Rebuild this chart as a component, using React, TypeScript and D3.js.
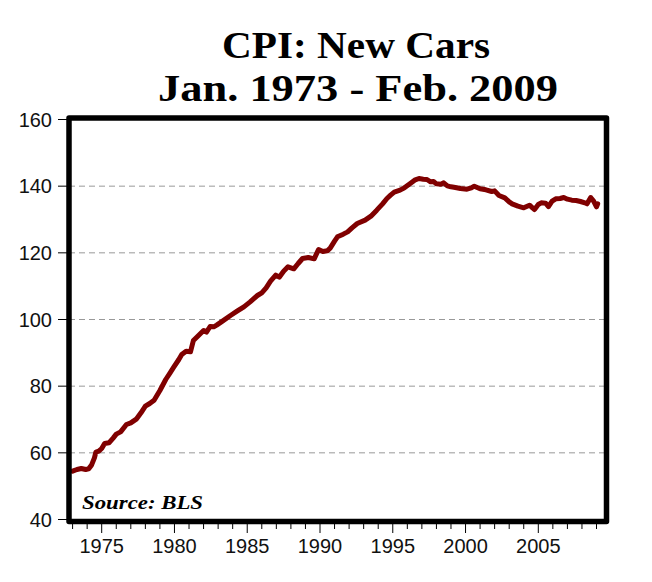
import React, { useEffect, useRef } from 'react';
import * as d3 from 'd3';

// decimal year of each reading (Jan 1973 = 1973.0)
const dates = [
  1973.0, 1973.3, 1973.6, 1973.9, 1974.1, 1974.3, 1974.5, 1974.6, 1974.8, 1975.0,
  1975.2, 1975.5, 1975.8, 1976.0, 1976.3, 1976.7, 1977.0, 1977.4, 1977.7, 1978.0,
  1978.3, 1978.6, 1979.0, 1979.4, 1979.7, 1979.95, 1980.3, 1980.5, 1980.8, 1981.1,
  1981.3, 1981.6, 1982.0, 1982.2, 1982.45, 1982.7, 1982.9, 1983.3, 1983.85, 1984.3,
  1984.77, 1985.2, 1985.7, 1986.0, 1986.3, 1986.6, 1986.96, 1987.2, 1987.5, 1987.8,
  1988.2, 1988.5, 1988.8, 1989.2, 1989.6, 1989.9, 1990.2, 1990.5, 1990.7, 1991.0,
  1991.2, 1991.6, 1991.9, 1992.2, 1992.56, 1993.1, 1993.5, 1993.9, 1994.3, 1994.6,
  1994.85, 1995.1, 1995.5, 1995.8, 1996.2, 1996.5, 1996.8, 1997.1, 1997.35, 1997.6,
  1997.8, 1998.0, 1998.3, 1998.5, 1998.75, 1999.0, 1999.3, 1999.65, 2000.1, 2000.4,
  2000.6, 2001.0, 2001.4, 2001.8, 2002.0, 2002.3, 2002.7, 2003.0, 2003.2, 2003.6,
  2004.0, 2004.2, 2004.4, 2004.6, 2004.74, 2005.0, 2005.2, 2005.5, 2005.7, 2005.95,
  2006.2, 2006.5, 2006.75, 2007.0, 2007.3, 2007.6, 2007.9, 2008.2, 2008.35, 2008.6,
  2008.8, 2009.0, 2009.08,
];

const cpi = [
  54.5, 55.0, 55.3, 55.0, 55.2, 56.3, 58.5, 60.2, 60.5, 61.3,
  62.8, 63.0, 64.5, 65.6, 66.3, 68.5, 69.0, 70.2, 72.0, 74.0,
  74.8, 75.8, 78.7, 82.0, 84.0, 85.7, 88.0, 89.5, 90.5, 90.3,
  93.7, 95.0, 96.7, 96.2, 97.9, 97.8, 98.3, 99.5, 101.2, 102.5,
  103.8, 105.3, 107.2, 108.0, 109.5, 111.5, 113.3, 112.7, 114.5, 115.8,
  115.2, 116.8, 118.3, 118.6, 118.2, 121.0, 120.4, 120.6, 121.4, 123.5,
  124.8, 125.6, 126.3, 127.5, 128.8, 129.8, 131.0, 132.8, 134.7, 136.3,
  137.3, 138.2, 138.8, 139.5, 140.8, 141.8, 142.3, 142.1, 142.0, 141.3,
  141.4, 140.7, 140.6, 141.0, 140.1, 139.8, 139.6, 139.3, 139.1, 139.5,
  140.0, 139.2, 138.9, 138.4, 138.6, 137.2, 136.5, 135.3, 134.7, 134.0,
  133.5, 133.9, 134.3, 133.5, 133.0, 134.5, 135.0, 134.9, 133.9, 135.5,
  136.2, 136.3, 136.6, 136.1, 135.8, 135.7, 135.4, 135.0, 134.7, 136.6,
  135.5, 133.8, 134.7,
];

const yTicks = [40, 60, 80, 100, 120, 140, 160];
const gridValues = [60, 80, 100, 120, 140];
const yearTicks = d3.range(1973, 2010);
const yearLabels = [1975, 1980, 1985, 1990, 1995, 2000, 2005];

export default function App() {
  const svgRef = useRef<SVGSVGElement>(null);

  useEffect(() => {
    if (!svgRef.current) return;
    const svg = d3.select(svgRef.current);
    svg.selectAll('*').remove();

    const frame = { left: 69, top: 118, right: 606.5, bottom: 521.5 };

    const x = d3.scaleLinear().domain([1975, 2005]).range([101.7, 538.3]);
    const y = d3.scaleLinear().domain([40, 160]).range([519.5, 119.5]);

    // title
    svg
      .append('text')
      .attr('x', 356)
      .attr('y', 58)
      .attr('text-anchor', 'middle')
      .attr('font-family', '"Liberation Serif", serif')
      .attr('font-weight', 'bold')
      .attr('font-size', 38)
      .attr('textLength', 268)
      .attr('lengthAdjust', 'spacingAndGlyphs')
      .text('CPI: New Cars');
    svg
      .append('text')
      .attr('x', 358)
      .attr('y', 101)
      .attr('text-anchor', 'middle')
      .attr('font-family', '"Liberation Serif", serif')
      .attr('font-weight', 'bold')
      .attr('font-size', 38)
      .attr('textLength', 400)
      .attr('lengthAdjust', 'spacingAndGlyphs')
      .text('Jan. 1973 - Feb. 2009');

    // grid
    svg
      .selectAll('.grid')
      .data(gridValues)
      .enter()
      .append('line')
      .attr('x1', frame.left)
      .attr('x2', frame.right)
      .attr('y1', (d) => y(d))
      .attr('y2', (d) => y(d))
      .attr('stroke', '#999')
      .attr('stroke-width', 1)
      .attr('stroke-dasharray', '6,4');

    // y axis ticks + labels
    svg
      .selectAll('.ytick')
      .data(yTicks)
      .enter()
      .append('line')
      .attr('x1', 58)
      .attr('x2', frame.left)
      .attr('y1', (d) => y(d))
      .attr('y2', (d) => y(d))
      .attr('stroke', '#000')
      .attr('stroke-width', 1);
    svg
      .selectAll('.ylabel')
      .data(yTicks)
      .enter()
      .append('text')
      .attr('x', 52)
      .attr('y', (d) => y(d) + 7)
      .attr('text-anchor', 'end')
      .attr('font-family', '"Liberation Sans", Arial, sans-serif')
      .attr('font-size', 20)
      .attr('fill', '#111')
      .text((d) => d);

    // x axis ticks + labels
    svg
      .selectAll('.xtick')
      .data(yearTicks)
      .enter()
      .append('line')
      .attr('x1', (d) => x(d))
      .attr('x2', (d) => x(d))
      .attr('y1', frame.bottom)
      .attr('y2', (d) => (d % 5 === 0 ? 533 : 529))
      .attr('stroke', '#000')
      .attr('stroke-width', 1);
    svg
      .selectAll('.xlabel')
      .data(yearLabels)
      .enter()
      .append('text')
      .attr('x', (d) => x(d))
      .attr('y', 553)
      .attr('text-anchor', 'middle')
      .attr('font-family', '"Liberation Sans", Arial, sans-serif')
      .attr('font-size', 20)
      .attr('fill', '#111')
      .text((d) => d);

    // series
    const series = dates.map((t, i) => ({ t, v: cpi[i] }));
    const line = d3
      .line<{ t: number; v: number }>()
      .x((d) => x(d.t))
      .y((d) => y(d.v));
    svg
      .append('path')
      .datum(series)
      .attr('d', line)
      .attr('fill', 'none')
      .attr('stroke', '#800000')
      .attr('stroke-width', 5)
      .attr('stroke-linejoin', 'round')
      .attr('stroke-linecap', 'round');

    // source note
    svg
      .append('text')
      .attr('x', 82)
      .attr('y', 509)
      .attr('font-family', '"Liberation Serif", serif')
      .attr('font-weight', 'bold')
      .attr('font-style', 'italic')
      .attr('font-size', 18)
      .attr('textLength', 121)
      .attr('lengthAdjust', 'spacingAndGlyphs')
      .text('Source: BLS');

    // frame
    svg
      .append('rect')
      .attr('x', frame.left)
      .attr('y', frame.top)
      .attr('width', frame.right - frame.left)
      .attr('height', frame.bottom - frame.top)
      .attr('fill', 'none')
      .attr('stroke', '#000')
      .attr('stroke-width', 5.5)
      .attr('stroke-linejoin', 'round');
  }, []);

  return (
    <svg
      ref={svgRef}
      width={652}
      height={582}
      style={{ position: 'absolute', left: 0, top: 0, background: '#fff' }}
    />
  );
}
